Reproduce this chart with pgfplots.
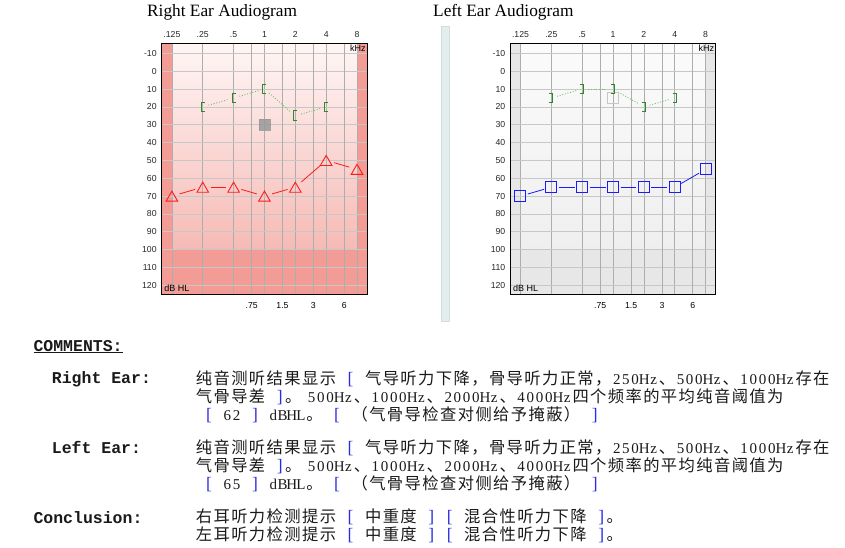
\documentclass[border=0pt]{standalone}
\usepackage{pgfplots}
\pgfplotsset{compat=1.18}
\usepackage{fontspec}
\setmainfont{Liberation Serif}
\newfontfamily\cjk{Noto Sans CJK SC}
\newfontfamily\lat{Liberation Serif}
\newfontfamily\monob{Liberation Mono}
\newfontfamily\arial{Liberation Sans}

\definecolor{pinkTop}{HTML}{FFF6F5}
\definecolor{pinkBot}{HTML}{F6BAB5}
\definecolor{pinkDark}{HTML}{F29C95}
\definecolor{grayTop}{HTML}{FBFBFB}
\definecolor{grayBot}{HTML}{EFEFEF}
\definecolor{grayDark}{HTML}{E7E7E7}
\definecolor{acred}{HTML}{FF1A1A}
\definecolor{acblue}{HTML}{1A1AFF}
\definecolor{bcgreen}{HTML}{2A8A2A}
\definecolor{bcdot}{HTML}{6CBF6C}
\definecolor{brblue}{HTML}{2A2AE0}
\definecolor{panel}{HTML}{E4EDED}
\definecolor{paneledge}{HTML}{D2DEDE}
\definecolor{txt}{HTML}{1A1A1A}

\pgfdeclareplotmark{lbr}{%
  \pgfpathmoveto{\pgfqpoint{2pt}{4.8pt}}%
  \pgfpathlineto{\pgfqpoint{-1.5pt}{4.8pt}}%
  \pgfpathlineto{\pgfqpoint{-1.5pt}{-4.8pt}}%
  \pgfpathlineto{\pgfqpoint{2pt}{-4.8pt}}%
  \pgfusepathqstroke}
\pgfdeclareplotmark{rbr}{%
  \pgfpathmoveto{\pgfqpoint{-2pt}{4.8pt}}%
  \pgfpathlineto{\pgfqpoint{1.5pt}{4.8pt}}%
  \pgfpathlineto{\pgfqpoint{1.5pt}{-4.8pt}}%
  \pgfpathlineto{\pgfqpoint{-2pt}{-4.8pt}}%
  \pgfusepathqstroke}

\makeatletter
\def\C#1{\C@loop#1\@nil}
\def\C@loop#1{\ifx#1\@nil\else\makebox[17.7pt]{\cjk\fontsize{16.3}{18}\selectfont#1}\expandafter\C@loop\fi}
\def\La#1{\La@loop#1\@nil}
\def\La@loop#1{\ifx#1\@nil\else\makebox[9.2pt]{\lat\fontsize{15}{16}\selectfont#1}\expandafter\La@loop\fi}
\makeatother
\newcommand\hs{\hspace*{9.2pt}}
\newcommand\LB{\makebox[9.2pt]{\textcolor{brblue}{\lat\fontsize{17.5}{18}\selectfont[}}}
\newcommand\RB{\makebox[9.2pt]{\textcolor{brblue}{\lat\fontsize{17.5}{18}\selectfont]}}}
\newcommand\lab[1]{{\monob\bfseries\fontsize{16.5}{18}\selectfont #1}}

\pgfplotsset{
  audio/.style={
    set layers,
    scale only axis, width=205.5pt, height=251pt, anchor=north west,
    xmin=-3.33, xmax=3.33, ymin=-15.6, ymax=125, y dir=reverse,
    xtick={-3,-2,-1,0,1,2,3}, xticklabels={.125,.25,.5,1,2,4,8},
    xticklabel pos=upper,
    extra x ticks={-0.415,0.585,1.585,2.585}, extra x tick labels={,,,},
    ytick={-10,0,10,20,30,40,50,60,70,80,90,100,110,120},
    major tick length=0pt,
    grid=major,
    x grid style={color=black!32, line width=0.7pt},
    y grid style={color=black!22, line width=0.7pt},
    /pgf/number format/assume math mode=true,
    tick label style={font=\arial\fontsize{8.7}{9}\selectfont, text=black!85},
    yticklabel style={xshift=-1.5pt},
    xticklabel style={yshift=2pt},
    axis line style={black, line width=0.9pt},
    clip=false,
  },
  acseg/.style={line width=0.8pt, shorten >=8pt, shorten <=8pt, mark=none},
  bcseg/.style={bcdot, line width=0.9pt, dash pattern=on 0.9pt off 1.8pt, shorten >=6pt, shorten <=6pt, mark=none},
}

\begin{document}
\begin{tikzpicture}
\path (0pt,0pt) rectangle (845pt,-547pt);

% titles
\node[anchor=base west, inner sep=0, font=\lat\fontsize{17.3}{20}\selectfont] at (147pt,-16.5pt) {Right Ear Audiogram};
\node[anchor=base west, inner sep=0, font=\lat\fontsize{17.3}{20}\selectfont] at (433pt,-16.5pt) {Left Ear Audiogram};

% panel between charts
\fill[panel, draw=paneledge, line width=0.5pt] (441.5pt,-26pt) rectangle (449pt,-321pt);

% ================= RIGHT EAR =================
\begin{axis}[audio, at={(161.7pt,-43.3pt)}]
\begin{pgfonlayer}{axis background}
  \shade[top color=pinkTop, bottom color=pinkBot] (axis cs:-3,-15.6) rectangle (axis cs:3,100);
  \fill[pinkDark] (axis cs:-3.33,-15.6) rectangle (axis cs:-3,125);
  \fill[pinkDark] (axis cs:3,-15.6) rectangle (axis cs:3.33,125);
  \fill[pinkDark] (axis cs:-3,100) rectangle (axis cs:3,125);
\end{pgfonlayer}
% air conduction segments
\addplot[acseg, acred] coordinates {(-3,70) (-2,65)};
\addplot[acseg, acred] coordinates {(-2,65) (-1,65)};
\addplot[acseg, acred] coordinates {(-1,65) (0,70)};
\addplot[acseg, acred] coordinates {(0,70) (1,65)};
\addplot[acseg, acred] coordinates {(1,65) (2,50)};
\addplot[acseg, acred] coordinates {(2,50) (3,55)};
\addplot[acred, only marks, mark=triangle, mark size=6.7pt, line width=0.9pt, mark options={yshift=-1.7pt}]
  coordinates {(-3,70) (-2,65) (-1,65) (0,70) (1,65) (2,50) (3,55)};
% bone conduction segments
\addplot[bcseg] coordinates {(-2,20) (-1,15)};
\addplot[bcseg] coordinates {(-1,15) (0,10)};
\addplot[bcseg] coordinates {(0,10) (1,25)};
\addplot[bcseg] coordinates {(1,25) (2,20)};
\addplot[bcgreen, only marks, mark=lbr, line width=1pt]
  coordinates {(-2,20) (-1,15) (0,10) (1,25) (2,20)};
% gray marker
\addplot[black!40, only marks, mark=square*, mark size=5.3pt, line width=0.3pt, fill opacity=0.85, draw opacity=0.85]
  coordinates {(0,30)};
\node[anchor=north east, inner sep=1.5pt, font=\arial\fontsize{9}{10}\selectfont] at (axis cs:3.33,-15.6) {kHz};
\node[anchor=south west, inner sep=2.5pt, font=\arial\fontsize{9}{10}\selectfont] at (axis cs:-3.33,125) {dB HL};
\node[anchor=north, inner sep=0pt, yshift=-8pt, font=\arial\fontsize{8.7}{9}\selectfont] at (axis cs:-0.415,125) {.75};
\node[anchor=north, inner sep=0pt, yshift=-8pt, font=\arial\fontsize{8.7}{9}\selectfont] at (axis cs:0.585,125) {1.5};
\node[anchor=north, inner sep=0pt, yshift=-8pt, font=\arial\fontsize{8.7}{9}\selectfont] at (axis cs:1.585,125) {3};
\node[anchor=north, inner sep=0pt, yshift=-8pt, font=\arial\fontsize{8.7}{9}\selectfont] at (axis cs:2.585,125) {6};
\end{axis}

% ================= LEFT EAR =================
\begin{axis}[audio, at={(510.3pt,-43.3pt)}]
\begin{pgfonlayer}{axis background}
  \shade[top color=grayTop, bottom color=grayBot] (axis cs:-3,-15.6) rectangle (axis cs:3,100);
  \fill[grayDark] (axis cs:-3.33,-15.6) rectangle (axis cs:-3,125);
  \fill[grayDark] (axis cs:3,-15.6) rectangle (axis cs:3.33,125);
  \fill[grayDark] (axis cs:-3,100) rectangle (axis cs:3,125);
\end{pgfonlayer}
\addplot[acseg, acblue, shorten >=7.5pt, shorten <=7.5pt] coordinates {(-3,70) (-2,65)};
\addplot[acseg, acblue, shorten >=7.5pt, shorten <=7.5pt] coordinates {(-2,65) (-1,65)};
\addplot[acseg, acblue, shorten >=7.5pt, shorten <=7.5pt] coordinates {(-1,65) (0,65)};
\addplot[acseg, acblue, shorten >=7.5pt, shorten <=7.5pt] coordinates {(0,65) (1,65)};
\addplot[acseg, acblue, shorten >=7.5pt, shorten <=7.5pt] coordinates {(1,65) (2,65)};
\addplot[acseg, acblue, shorten >=7.5pt, shorten <=7.5pt] coordinates {(2,65) (3,55)};
\addplot[acblue, only marks, mark=square, mark size=5.5pt, line width=1pt]
  coordinates {(-3,70) (-2,65) (-1,65) (0,65) (1,65) (2,65) (3,55)};
\addplot[bcseg] coordinates {(-2,15) (-1,10)};
\addplot[bcseg] coordinates {(-1,10) (0,10)};
\addplot[bcseg] coordinates {(0,10) (1,20)};
\addplot[bcseg] coordinates {(1,20) (2,15)};
\addplot[only marks, mark=square, mark size=5.8pt, line width=1.2pt, mark options={draw=black!22}]
  coordinates {(0,15)};
\addplot[bcgreen, only marks, mark=rbr, line width=1pt]
  coordinates {(-2,15) (-1,10) (0,10) (1,20) (2,15)};
\node[anchor=north east, inner sep=1.5pt, font=\arial\fontsize{9}{10}\selectfont] at (axis cs:3.33,-15.6) {kHz};
\node[anchor=south west, inner sep=2.5pt, font=\arial\fontsize{9}{10}\selectfont] at (axis cs:-3.33,125) {dB HL};
\node[anchor=north, inner sep=0pt, yshift=-8pt, font=\arial\fontsize{8.7}{9}\selectfont] at (axis cs:-0.415,125) {.75};
\node[anchor=north, inner sep=0pt, yshift=-8pt, font=\arial\fontsize{8.7}{9}\selectfont] at (axis cs:0.585,125) {1.5};
\node[anchor=north, inner sep=0pt, yshift=-8pt, font=\arial\fontsize{8.7}{9}\selectfont] at (axis cs:1.585,125) {3};
\node[anchor=north, inner sep=0pt, yshift=-8pt, font=\arial\fontsize{8.7}{9}\selectfont] at (axis cs:2.585,125) {6};
\end{axis}

% ================= COMMENTS =================
\begin{scope}[every node/.style={text=txt}]
\node[anchor=base west, inner sep=0] at (33.3pt,-351pt) {\lab{\underline{COMMENTS:}}};

\node[anchor=base west, inner sep=0] at (51.7pt,-383.5pt) {\lab{Right Ear:}};
\node[anchor=base west, inner sep=0] at (195pt,-384pt) {\C{纯音测听结果显示}\hs\LB\hs\C{气导听力下降，骨导听力正常，}\La{250Hz}\C{、}\La{500Hz}\C{、}\La{1000Hz}\C{存在}};
\node[anchor=base west, inner sep=0] at (195pt,-402.3pt) {\C{气骨导差}\hs\RB\C{。}\hspace*{5pt}\La{500Hz}\C{、}\La{1000Hz}\C{、}\La{2000Hz}\C{、}\La{4000Hz}\C{四个频率的平均纯音阈值为}};
\node[anchor=base west, inner sep=0] at (195pt,-420.6pt) {\hs\LB\hs\La{62}\hs\RB\hs\La{dBHL}\C{。}\hs\LB\hs\C{（气骨导检查对侧给予掩蔽）}\hs\RB};

\node[anchor=base west, inner sep=0] at (51.7pt,-453.3pt) {\lab{Left Ear:}};
\node[anchor=base west, inner sep=0] at (195pt,-453pt) {\C{纯音测听结果显示}\hs\LB\hs\C{气导听力下降，骨导听力正常，}\La{250Hz}\C{、}\La{500Hz}\C{、}\La{1000Hz}\C{存在}};
\node[anchor=base west, inner sep=0] at (195pt,-471.2pt) {\C{气骨导差}\hs\RB\C{。}\hspace*{5pt}\La{500Hz}\C{、}\La{1000Hz}\C{、}\La{2000Hz}\C{、}\La{4000Hz}\C{四个频率的平均纯音阈值为}};
\node[anchor=base west, inner sep=0] at (195pt,-489.4pt) {\hs\LB\hs\La{65}\hs\RB\hs\La{dBHL}\C{。}\hs\LB\hs\C{（气骨导检查对侧给予掩蔽）}\hs\RB};

\node[anchor=base west, inner sep=0] at (33.3pt,-523.3pt) {\lab{Conclusion:}};
\node[anchor=base west, inner sep=0] at (195pt,-522pt) {\C{右耳听力检测提示}\hs\LB\hs\C{中重度}\hs\RB\hs\LB\hs\C{混合性听力下降}\hs\RB\C{。}};
\node[anchor=base west, inner sep=0] at (195pt,-540pt) {\C{左耳听力检测提示}\hs\LB\hs\C{中重度}\hs\RB\hs\LB\hs\C{混合性听力下降}\hs\RB\C{。}};
\end{scope}
\end{tikzpicture}
\end{document}
